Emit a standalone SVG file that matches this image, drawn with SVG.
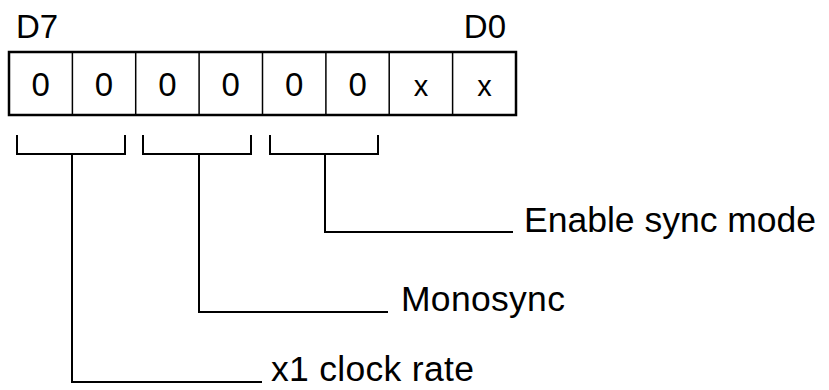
<svg xmlns="http://www.w3.org/2000/svg" width="829" height="390" viewBox="0 0 829 390">
<style>
.t{font-family:"Liberation Sans",Arial,sans-serif;fill:#000}
.lbl{font-size:35.5px;letter-spacing:0.3px}
.bit{font-size:33px;text-anchor:middle}
.ln{fill:none;stroke:#000;stroke-width:2}
</style>
<rect width="829" height="390" fill="#fff"/>
<g id="register">
<rect x="9" y="52" width="507" height="63" fill="none" stroke="#000" stroke-width="2.5"/>
<path d="M72.4,52V115M135.7,52V115M199.1,52V115M262.5,52V115M325.9,52V115M389.2,52V115M452.6,52V115" stroke="#000" stroke-width="1.5" fill="none"/>
<text class="t bit" x="40.7" y="96">0</text>
<text class="t bit" x="104" y="96">0</text>
<text class="t bit" x="167.4" y="96">0</text>
<text class="t bit" x="230.8" y="96">0</text>
<text class="t bit" x="294.2" y="96">0</text>
<text class="t bit" x="357.6" y="96">0</text>
<text class="t bit" x="421" y="96" style="font-size:29px">x</text>
<text class="t bit" x="484.4" y="96" style="font-size:29px">x</text>
<text class="t" x="16" y="38" style="font-size:33px">D7</text>
<text class="t" x="506" y="38" style="font-size:33px;text-anchor:end">D0</text>
</g>
<g id="connectors">
<path class="ln" d="M17,135V154H125V135"/>
<path class="ln" d="M72,154V382H262"/>
<path class="ln" d="M143,135V154H251V135"/>
<path class="ln" d="M199,154V312H388"/>
<path class="ln" d="M270,135V154H378V135"/>
<path class="ln" d="M325,154V232H513"/>
</g>
<g id="label-sync"><text class="t lbl" x="524" y="232" style="letter-spacing:0">Enable sync mode</text></g>
<g id="label-mono"><text class="t lbl" x="401" y="311">Monosync</text></g>
<g id="label-clock"><text class="t lbl" x="271" y="381">x1 clock rate</text></g>
</svg>
